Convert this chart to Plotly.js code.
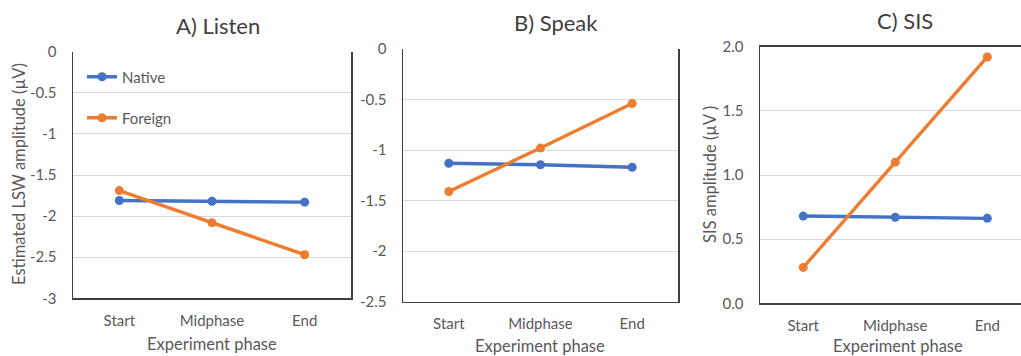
<!DOCTYPE html>
<html>
<head>
<meta charset="utf-8">
<script src="https://cdn.plot.ly/plotly-3.0.1.min.js"></script>
<style>html,body{margin:0;padding:0;background:#fff;}#chart{width:1021px;height:356px;}</style>
</head>
<body>
<div id="chart"></div>
<script>
// ---- data ----
const phases = ["Start", "Midphase", "End"];
const listenNative = [-1.81, -1.82, -1.83];
const listenForeign = [-1.69, -2.08, -2.47];
const speakNative = [-1.13, -1.145, -1.17];
const speakForeign = [-1.41, -0.98, -0.54];
const sisNative = [0.68, 0.67, 0.662];
const sisForeign = [0.28, 1.10, 1.92];
const seriesNames = ["Native", "Foreign"];
const panelTitles = ["A) Listen", "B) Speak", "C) SIS"];
const xAxisTitle = "Experiment phase";
const yTitleA = "Estimated LSW amplitude (µV)";
const yTitleC = "SIS amplitude (µV )";
const tickValsA = [0, -0.5, -1, -1.5, -2, -2.5, -3];
const tickTextA = ["0", "-0.5", "-1", "-1.5", "-2", "-2.5", "-3"];
const tickValsB = [0, -0.5, -1, -1.5, -2, -2.5];
const tickTextB = ["0", "-0.5", "-1", "-1.5", "-2", "-2.5"];
const tickValsC = [0, 0.5, 1.0, 1.5, 2.0];
const tickTextC = ["0.0", "0.5", "1.0", "1.5", "2.0"];

// ---- styling ----
const W = 1021, H = 356;
const BLUE = "#4472C4", ORANGE = "#ED7D31";
const FONT = "Lato, 'Open Sans', sans-serif";
const TXT = "#595959";
const fx = p => p / W;
const fy = p => 1 - p / H;

function mk(x, y, name, color, xa, ya, showleg, leg) {
  return {
    x: x, y: y, name: name, type: "scatter", mode: "lines+markers",
    line: {color: color, width: 3.4},
    marker: {color: color, size: 9},
    xaxis: xa, yaxis: ya, showlegend: showleg, legend: leg,
    cliponaxis: false, hoverinfo: "skip"
  };
}

const data = [
  mk(phases, listenNative, seriesNames[0], BLUE, "x", "y", true, "legend"),
  mk(phases, listenForeign, seriesNames[1], ORANGE, "x", "y", true, "legend2"),
  mk(phases, speakNative, seriesNames[0], BLUE, "x2", "y2", false),
  mk(phases, speakForeign, seriesNames[1], ORANGE, "x2", "y2", false),
  mk(phases, sisNative, seriesNames[0], BLUE, "x3", "y3", false),
  mk(phases, sisForeign, seriesNames[1], ORANGE, "x3", "y3", false)
];

const AXLINE = "#3f3f3f";
const GRID = "#d9d9d9";
function xax(dom, anchor, range, mirror) {
  return {
    domain: dom, anchor: anchor, type: "category", range: range,
    showline: true, linecolor: AXLINE, linewidth: 1.5, mirror: mirror,
    showgrid: false, zeroline: false, ticks: "", ticklabelstandoff: 8,
    tickfont: {family: FONT, size: 15, color: TXT}, fixedrange: true
  };
}
function yax(dom, anchor, range, tv, tt, mirror) {
  return {
    domain: dom, anchor: anchor, range: range,
    tickvals: tv, ticktext: tt,
    showline: true, linecolor: AXLINE, linewidth: 1.5, mirror: mirror,
    showgrid: true, gridcolor: GRID, gridwidth: 1, zeroline: false,
    ticks: "", ticklabelstandoff: 12,
    tickfont: {family: FONT, size: 15, color: TXT}, fixedrange: true
  };
}

const dA = [fx(73), fx(351)], dB = [fx(403), fx(678)], dC = [fx(760), 1];
const vA = [fy(298.3), fy(51.7)], vB = [fy(301.7), fy(49)], vC = [fy(303.3), fy(46.7)];

const annots = [];
function ann(text, x, y, size, angle, color) {
  annots.push({text: text, x: x, y: y, xref: "paper", yref: "paper",
    xanchor: "center", yanchor: "middle", showarrow: false, textangle: angle || 0,
    font: {family: FONT, size: size, color: color}});
}
ann(panelTitles[0], fx(218), fy(25), 22, 0, "#404040");
ann(panelTitles[1], fx(556), fy(22), 22, 0, "#404040");
ann(panelTitles[2], fx(905), fy(20), 22, 0, "#404040");
ann(xAxisTitle, fx(212), fy(344), 16.5, 0, TXT);
ann(xAxisTitle, fx(540), fy(346), 16.5, 0, TXT);
ann(xAxisTitle, fx(898), fy(346), 16.5, 0, TXT);
ann(yTitleA, fx(19), fy(174), 16.5, -90, TXT);
ann(yTitleC, fx(710), fy(175), 16.5, -90, TXT);

const legBase = {
  xanchor: "left", yanchor: "middle", bgcolor: "rgba(0,0,0,0)",
  font: {family: FONT, size: 15, color: TXT}, itemclick: false, itemdoubleclick: false
};

const layout = {
  width: W, height: H,
  margin: {l: 0, r: 0, t: 0, b: 0, pad: 0},
  paper_bgcolor: "#ffffff", plot_bgcolor: "rgba(0,0,0,0)",
  showlegend: true,
  xaxis: xax(dA, "y", [-0.5, 2.5], false),
  yaxis: yax(vA, "x", [-3, 0], tickValsA, tickTextA, true),
  xaxis2: xax(dB, "y2", [-0.5, 2.5], false),
  yaxis2: yax(vB, "x2", [-2.5, 0], tickValsB, tickTextB, true),
  xaxis3: xax(dC, "y3", [-0.47, 2.366], true),
  yaxis3: yax(vC, "x3", [0, 2], tickValsC, tickTextC, false),
  legend: Object.assign({x: fx(82), y: fy(77)}, legBase),
  legend2: Object.assign({x: fx(82), y: fy(118)}, legBase),
  annotations: annots
};

Plotly.newPlot("chart", data, layout, {displayModeBar: false, staticPlot: true});
</script>
</body>
</html>
